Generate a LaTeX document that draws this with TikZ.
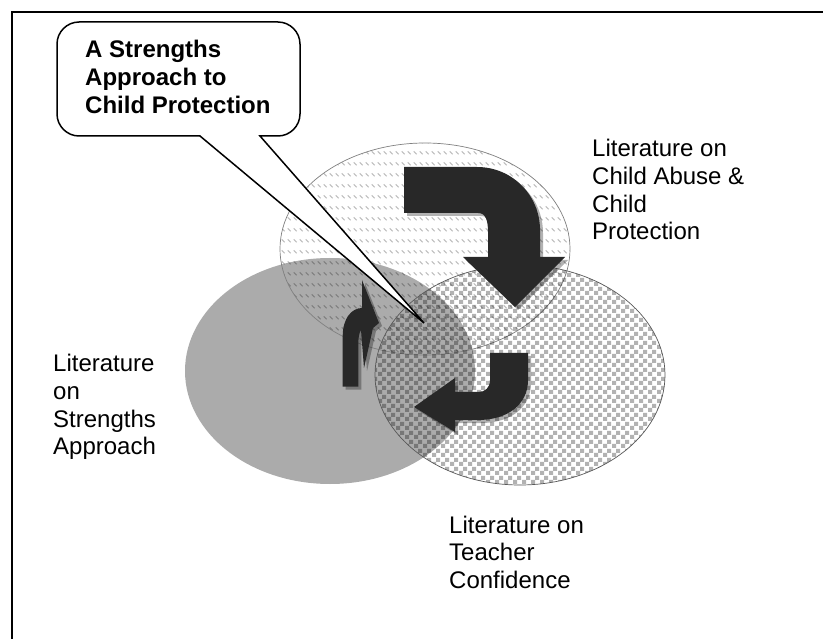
\documentclass[tikz,border=0pt]{standalone}
\usepackage{fontspec}
\setmainfont{Liberation Sans}
\usetikzlibrary{patterns}
\pgfdeclarepatternformonly{bigchecker}{\pgfpointorigin}{\pgfqpoint{8.6pt}{8.6pt}}{\pgfqpoint{8.6pt}{8.6pt}}{%
  \pgfpathrectangle{\pgfpointorigin}{\pgfqpoint{4.3pt}{4.3pt}}%
  \pgfpathrectangle{\pgfqpoint{4.3pt}{4.3pt}}{\pgfqpoint{4.3pt}{4.3pt}}%
  \pgfusepath{fill}}
\pgfdeclarepatternformonly{dashdiag}{\pgfpointorigin}{\pgfqpoint{5.5pt}{11pt}}{\pgfqpoint{5.5pt}{11pt}}{%
  \pgfsetlinewidth{1.1pt}%
  \pgfpathmoveto{\pgfqpoint{0.8pt}{4pt}}%
  \pgfpathlineto{\pgfqpoint{4pt}{0.8pt}}%
  \pgfusepath{stroke}}
\definecolor{ellgray}{RGB}{171,171,171}
\definecolor{arrowdark}{RGB}{40,40,40}
\tikzset{
  lbl/.style={anchor=base west, inner sep=0pt, font=\fontsize{24}{27.6}\selectfont},
  calltext/.style={anchor=base west, inner sep=0pt, font=\fontsize{24}{27.6}\selectfont\bfseries},
  arrowbody/.style={fill=arrowdark},
  arrowshadow/.style={fill=black, fill opacity=0.3},
}
\begin{document}
\begin{tikzpicture}[x=1pt,y=-1pt]
\useasboundingbox (0,0) rectangle (823,639);
\fill[white] (0,0) rectangle (823,639);
% frame
\draw[line width=2pt] (12,639) -- (12,12) -- (823,12);
% ellipses
\fill[ellgray] (330,371) ellipse [x radius=145, y radius=113];
\path[pattern=dashdiag, pattern color=black, fill opacity=0.26] (425,249) ellipse [x radius=145, y radius=106];
\draw[gray, line width=0.7pt] (425,249) ellipse [x radius=145, y radius=106];
\path[pattern=bigchecker, pattern color=black, fill opacity=0.3] (520,375) ellipse [x radius=145, y radius=110];
\draw[black!65, line width=0.7pt] (520,375) ellipse [x radius=145, y radius=110];
% arrows: shadows
\begin{scope}[shift={(3,3)}]
\fill[arrowshadow] (404,167) -- (477,167) .. controls (512,167) and (540,195) .. (540,230) -- (540,257) -- (565,257) -- (515,307) -- (463,257) -- (488,257) -- (488,232) .. controls (488,221) and (486,213) .. (478,213) -- (404,213) -- cycle;
\fill[arrowshadow] (490,353) -- (528,353) -- (528,380) .. controls (528,405) and (507,420) .. (478,420) -- (455,420) -- (455,432) -- (414,407) -- (455,378) -- (455,392) -- (478,392) .. controls (485,392) and (490,388) .. (490,380) -- cycle;
\fill[arrowshadow] (342.7,386.7) -- (342.7,336) .. controls (342.7,318) and (352,308) .. (362,308) -- (362,280) -- (379,323) -- (373,328) -- (364,368) -- (361,330) .. controls (359,333) and (358.3,338) .. (358.3,345) -- (358.3,386.7) -- cycle;
\end{scope}
% arrows: bodies
\fill[arrowbody] (404,167) -- (477,167) .. controls (512,167) and (540,195) .. (540,230) -- (540,257) -- (565,257) -- (515,307) -- (463,257) -- (488,257) -- (488,232) .. controls (488,221) and (486,213) .. (478,213) -- (404,213) -- cycle;
\fill[arrowbody] (490,353) -- (528,353) -- (528,380) .. controls (528,405) and (507,420) .. (478,420) -- (455,420) -- (455,432) -- (414,407) -- (455,378) -- (455,392) -- (478,392) .. controls (485,392) and (490,388) .. (490,380) -- cycle;
\fill[arrowbody] (342.7,386.7) -- (342.7,336) .. controls (342.7,318) and (352,308) .. (362,308) -- (362,280) -- (379,323) -- (373,328) -- (364,368) -- (361,330) .. controls (359,333) and (358.3,338) .. (358.3,345) -- (358.3,386.7) -- cycle;
% callout
\coordinate (tip) at (424,323);
\draw[fill=white, line width=1.5pt, line join=miter] (200,136) -- (79,136) .. controls (67,136) and (57,126) .. (57,114) -- (57,44) .. controls (57,32) and (67,22) .. (79,22) -- (278,22) .. controls (290,22) and (300,32) .. (300,44) -- (300,114) .. controls (300,126) and (290,136) .. (278,136) -- (260,136) -- (tip) -- cycle;
\node[calltext] (title) at (85,58) {\begin{tabular}[t]{@{}l@{}}A Strengths\\Approach to\\Child Protection\end{tabular}};
% labels
\node[lbl] (abuse) at (592,157) {\begin{tabular}[t]{@{}l@{}}Literature on\\Child Abuse \&\\Child\\Protection\end{tabular}};
\node[lbl] (strengths) at (53,372) {\begin{tabular}[t]{@{}l@{}}Literature\\on\\Strengths\\Approach\end{tabular}};
\node[lbl] (teacher) at (449,533) {\begin{tabular}[t]{@{}l@{}}Literature on\\Teacher\\Confidence\end{tabular}};
\end{tikzpicture}
\end{document}
